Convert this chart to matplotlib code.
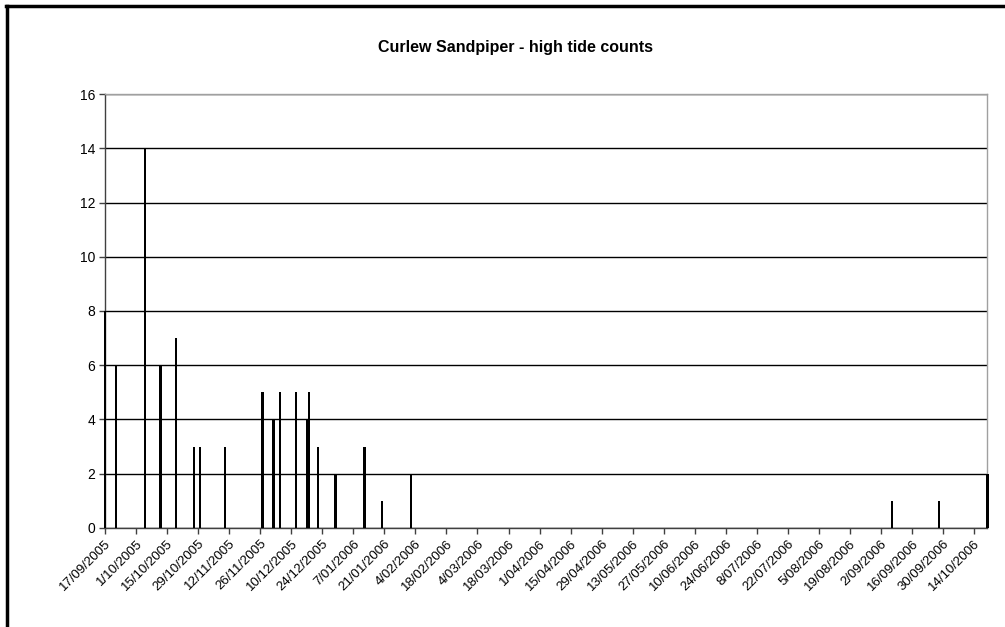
import datetime as dt
import matplotlib
matplotlib.use('Agg')
import matplotlib.pyplot as plt
import matplotlib.dates as mdates
from matplotlib.lines import Line2D

plt.rcParams['font.family'] = ['Liberation Sans', 'DejaVu Sans']

# Count dates and numbers of birds
dates = ['2005-09-17', '2005-09-22', '2005-10-05', '2005-10-12', '2005-10-19',
         '2005-10-27', '2005-10-30', '2005-11-10', '2005-11-27', '2005-12-02',
         '2005-12-05', '2005-12-12', '2005-12-17', '2005-12-18', '2005-12-22',
         '2005-12-30', '2006-01-12', '2006-01-20', '2006-02-02', '2006-09-07',
         '2006-09-28', '2006-10-20']
counts = [8, 6, 14, 6, 7, 3, 3, 3, 5, 4, 5, 5, 4, 5, 3, 2, 3, 1, 2, 1, 1, 2]

title = 'Curlew Sandpiper - high tide counts'
first_tick = dt.date(2005, 9, 17)
last_tick = dt.date(2006, 10, 14)
tick_step = 14
y_max = 16
y_step = 2

days = [dt.datetime.strptime(d, '%Y-%m-%d') for d in dates]

fig = plt.figure(figsize=(10.05, 6.27), dpi=100)
ax = fig.add_axes([0.1045, 0.158, 0.878, 0.692])

bars = ax.bar(days, counts, width=1.0, color='black', edgecolor='none', zorder=3)
for b in bars:
    b.set_clip_on(False)

ax.set_xlim(days[0], days[-1])
ax.set_ylim(0, y_max)

# x ticks every 14 days
ticks = []
t = first_tick
while t <= last_tick:
    ticks.append(t)
    t += dt.timedelta(days=tick_step)
ax.set_xticks([mdates.date2num(x) for x in ticks])
ax.set_xticklabels([f'{x.day}/{x.month:02d}/{x.year}' for x in ticks],
                   rotation=45, ha='right', rotation_mode='anchor', fontsize=9.5)
ax.set_yticks(range(0, y_max + 1, y_step))
ax.tick_params(axis='y', labelsize=10, length=4, width=1, color='#404040', pad=3)
ax.tick_params(axis='x', length=4, width=1, color='#404040', pad=3)

ax.yaxis.grid(True, color='black', linewidth=1, zorder=1)
ax.set_axisbelow(True)

ax.spines['top'].set_color('#a0a0a0')
ax.spines['right'].set_color('#a0a0a0')
ax.spines['left'].set_color('#404040')
ax.spines['bottom'].set_color('#404040')
for s in ax.spines.values():
    s.set_linewidth(1)

fig.text(0.5125, 0.925, title, ha='center', va='center', fontsize=11.5, fontweight='bold')

# chart area border (only top and left visible)
fig.add_artist(Line2D([0.006, 1.0], [0.991, 0.991], color='black', linewidth=2.5,
                      transform=fig.transFigure))
fig.add_artist(Line2D([0.0065, 0.0065], [0.0, 0.991], color='black', linewidth=2.5,
                      transform=fig.transFigure))

fig.savefig('out.png', dpi=100)
